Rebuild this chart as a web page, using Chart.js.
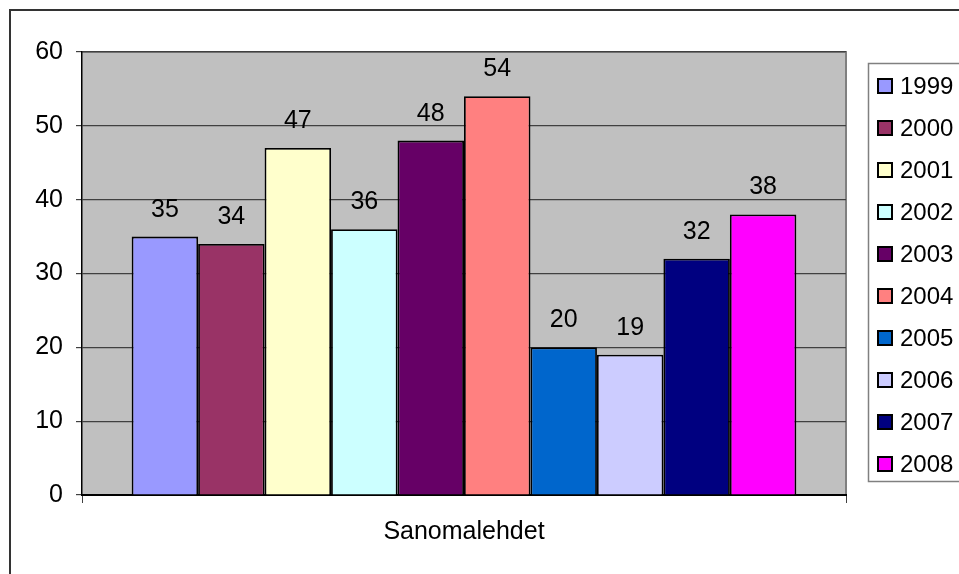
<!DOCTYPE html>
<html>
<head>
<meta charset="utf-8">
<script src="https://cdn.jsdelivr.net/npm/chart.js@4"></script>
<style>
  html, body { margin: 0; padding: 0; background: #fff; }
  #chart { display: block; }
</style>
</head>
<body>
<canvas id="chart" width="959" height="574"></canvas>
<script>
// Data
const categories = ['Sanomalehdet'];
const years = ['1999', '2000', '2001', '2002', '2003', '2004', '2005', '2006', '2007', '2008'];
const values = [35, 34, 47, 36, 48, 54, 20, 19, 32, 38];
const colors = ['#9999FF', '#993366', '#FFFFCC', '#CCFFFF', '#660066',
                '#FF8080', '#0066CC', '#CCCCFF', '#000080', '#FF00FF'];

const FONT = '"Liberation Sans", Arial, sans-serif';

// gray plot area + outer frame, like the old Excel charts
const backgroundPlugin = {
    id: 'background',
    beforeDraw(chart) {
        const ctx = chart.ctx;
        const a = chart.chartArea;
        ctx.save();
        ctx.fillStyle = '#C0C0C0';
        ctx.fillRect(a.left, a.top, a.right - a.left, a.bottom - a.top);
        ctx.strokeStyle = '#808080';
        ctx.lineWidth = 2;
        ctx.beginPath();
        ctx.moveTo(a.left, a.top);
        ctx.lineTo(a.right, a.top);
        ctx.lineTo(a.right, a.bottom);
        ctx.stroke();
        // chart frame
        ctx.strokeStyle = '#333';
        ctx.lineWidth = 2;
        ctx.strokeRect(10, 10, 1000, 1000);
        ctx.restore();
    }
};

// numbers above each bar
const valueLabels = {
    id: 'valueLabels',
    afterDatasetsDraw(chart) {
        const ctx = chart.ctx;
        ctx.save();
        ctx.font = '25px ' + FONT;
        ctx.fillStyle = '#000';
        ctx.textAlign = 'center';
        ctx.textBaseline = 'alphabetic';
        chart.data.datasets.forEach((ds, i) => {
            const bar = chart.getDatasetMeta(i).data[0];
            ctx.fillText(String(ds.data[0]), bar.x, bar.y - 20);
        });
        ctx.restore();
    }
};

// legend box on the right
const boxLegend = {
    id: 'boxLegend',
    afterDraw(chart) {
        const ctx = chart.ctx;
        ctx.save();
        ctx.strokeStyle = '#808080';
        ctx.lineWidth = 1.5;
        ctx.strokeRect(868.5, 63.5, 200, 418);
        ctx.font = '24px ' + FONT;
        ctx.textAlign = 'left';
        ctx.textBaseline = 'middle';
        chart.data.datasets.forEach((ds, i) => {
            const cy = 86 + i * 42;
            ctx.fillStyle = ds.backgroundColor;
            ctx.fillRect(878, cy - 7, 14, 14);
            ctx.strokeStyle = '#000';
            ctx.lineWidth = 2;
            ctx.strokeRect(878, cy - 7, 14, 14);
            ctx.fillStyle = '#000';
            ctx.fillText(ds.label, 900, cy + 1);
        });
        ctx.restore();
    }
};

const datasets = years.map((y, i) => ({
    label: y,
    data: [values[i]],
    backgroundColor: colors[i],
    borderColor: '#000',
    borderWidth: 1.8,
    categoryPercentage: 0.87,
    barPercentage: 1.0
}));

new Chart(document.getElementById('chart'), {
    type: 'bar',
    data: { labels: categories, datasets: datasets },
    options: {
        responsive: false,
        animation: false,
        devicePixelRatio: 1,
        layout: { padding: { top: 52, right: 113, left: 0, bottom: 0 } },
        plugins: {
            legend: { display: false },
            tooltip: { enabled: false }
        },
        scales: {
            x: {
                afterFit: (s) => { s.height = 79; },
                grid: {
                    drawOnChartArea: false,
                    tickLength: 8,
                    color: '#404040'
                },
                border: { color: '#000', width: 2 },
                ticks: {
                    color: '#000',
                    font: { family: FONT, size: 25 },
                    padding: 14
                }
            },
            y: {
                min: 0,
                max: 60,
                afterFit: (s) => { s.width = 82; },
                grid: {
                    color: '#404040',
                    lineWidth: 1.2,
                    tickLength: 6
                },
                border: { color: '#000', width: 1.5 },
                ticks: {
                    stepSize: 10,
                    color: '#000',
                    font: { family: FONT, size: 25 },
                    padding: 13
                }
            }
        }
    },
    plugins: [backgroundPlugin, valueLabels, boxLegend]
});
</script>
</body>
</html>
